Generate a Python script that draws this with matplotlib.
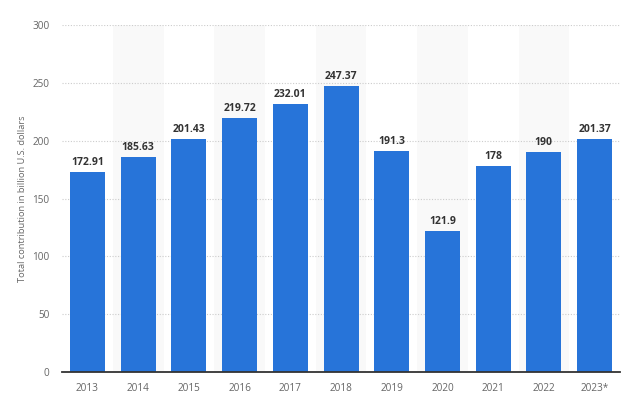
import matplotlib.pyplot as plt

plt.rcParams['font.family'] = ['Open Sans', 'DejaVu Sans']

years = ['2013', '2014', '2015', '2016', '2017', '2018', '2019', '2020', '2021', '2022', '2023*']
values = [172.91, 185.63, 201.43, 219.72, 232.01, 247.37, 191.3, 121.9, 178, 190, 201.37]
labels = ['172.91', '185.63', '201.43', '219.72', '232.01', '247.37', '191.3', '121.9', '178', '190', '201.37']

fig = plt.figure(figsize=(6.24, 3.96), dpi=100)
ax = fig.add_axes([0.0995, 0.0606, 0.894, 0.876])

x = list(range(len(years)))

# alternating column bands
for i in x:
    if i % 2 == 1:
        ax.axvspan(i - 0.5, i + 0.5, color='#f9f9f9', zorder=0, lw=0)

bars = ax.bar(x, values, width=0.69, color='#2774d9', zorder=3)
for b, lab in zip(bars, labels):
    ax.text(b.get_x() + b.get_width() / 2, b.get_height() + 3.5, lab,
            ha='center', va='bottom', fontsize=7.5, fontweight='bold', color='#333333')

ax.set_xlim(-0.5, len(years) - 0.5)
ax.set_ylim(0, 300)
ax.set_yticks(range(0, 301, 50))
ax.set_xticks(x)
ax.set_xticklabels(years)
ax.yaxis.grid(True, linestyle=(0, (1, 1.5)), color='#cccccc', lw=0.8, zorder=1)
ax.set_axisbelow(True)

for s in ['top', 'right', 'left']:
    ax.spines[s].set_visible(False)
ax.spines['bottom'].set_color('#333333')
ax.spines['bottom'].set_linewidth(1.3)
ax.spines['bottom'].set_zorder(4)

ax.tick_params(axis='both', length=0, labelsize=7.2, labelcolor='#666666')
ax.tick_params(axis='y', pad=9)
ax.tick_params(axis='x', pad=8)
ax.set_ylabel('Total contribution in billion U.S. dollars', fontsize=6.7, color='#666666', labelpad=4)

fig.savefig('out.png', dpi=100)
